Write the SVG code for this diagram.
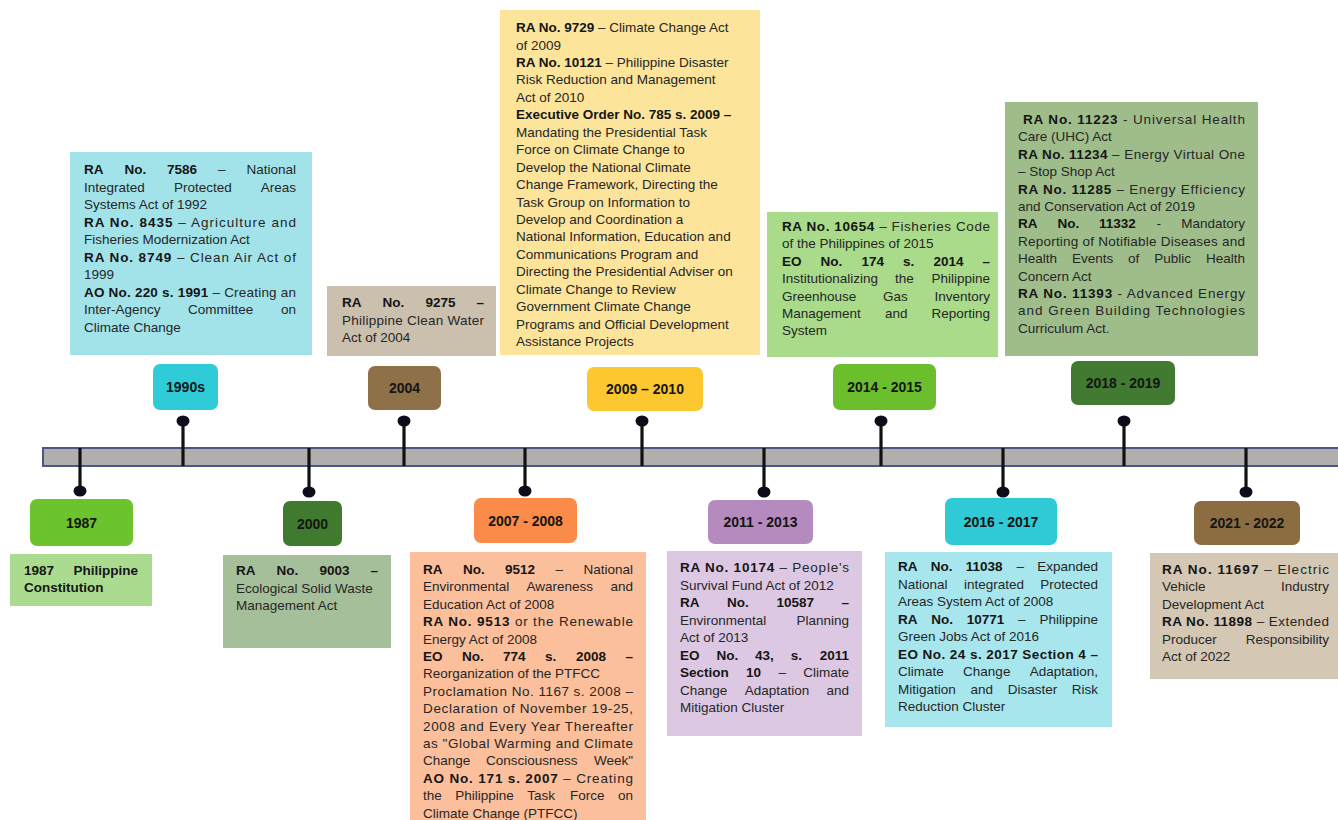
<svg xmlns="http://www.w3.org/2000/svg" width="1338" height="820" viewBox="0 0 1338 820">
<style>
.t{font-family:"Liberation Sans",Arial,sans-serif;font-size:13.5px;fill:#262626}
.b{font-weight:bold;fill:#151515}
.e{text-anchor:end}
.lbl{font-family:"Liberation Sans",Arial,sans-serif;font-size:14px;font-weight:bold;fill:#151515;text-anchor:middle}
.stem{stroke:#111;stroke-width:3.2}
.dot{fill:#0d0d1a}
</style>
<rect width="1338" height="820" fill="#ffffff"/>
<!-- timeline bar -->
<rect id="timeline" x="43" y="448" width="1300" height="18" fill="#b3aeae" stroke="#4b5887" stroke-width="2"/>
<g id="connectors">
<line class="stem" x1="80" y1="448" x2="80" y2="491"/><ellipse class="dot" cx="80" cy="491" rx="6.5" ry="5.5"/>
<line class="stem" x1="183" y1="421" x2="183" y2="466"/><ellipse class="dot" cx="183" cy="421" rx="6.5" ry="5.5"/>
<line class="stem" x1="309" y1="448" x2="309" y2="492"/><ellipse class="dot" cx="309" cy="492" rx="6.5" ry="5.5"/>
<line class="stem" x1="404" y1="421" x2="404" y2="466"/><ellipse class="dot" cx="404" cy="421" rx="6.5" ry="5.5"/>
<line class="stem" x1="525" y1="448" x2="525" y2="491"/><ellipse class="dot" cx="525" cy="491" rx="6.5" ry="5.5"/>
<line class="stem" x1="642" y1="421" x2="642" y2="466"/><ellipse class="dot" cx="642" cy="421" rx="6.5" ry="5.5"/>
<line class="stem" x1="764" y1="448" x2="764" y2="492"/><ellipse class="dot" cx="764" cy="492" rx="6.5" ry="5.5"/>
<line class="stem" x1="881" y1="421" x2="881" y2="466"/><ellipse class="dot" cx="881" cy="421" rx="6.5" ry="5.5"/>
<line class="stem" x1="1003" y1="448" x2="1003" y2="492"/><ellipse class="dot" cx="1003" cy="492" rx="6.5" ry="5.5"/>
<line class="stem" x1="1124" y1="421" x2="1124" y2="466"/><ellipse class="dot" cx="1124" cy="421" rx="6.5" ry="5.5"/>
<line class="stem" x1="1246" y1="448" x2="1246" y2="492"/><ellipse class="dot" cx="1246" cy="492" rx="6.5" ry="5.5"/>
</g>

<!-- year labels -->
<g id="y1987"><rect x="30" y="499" width="103" height="47" rx="7" fill="#6cc32e"/><text class="lbl" x="81.5" y="527.5">1987</text></g>
<g id="y1990s"><rect x="153" y="364" width="65" height="46" rx="7" fill="#2fcbd6"/><text class="lbl" x="185.5" y="392">1990s</text></g>
<g id="y2000"><rect x="283" y="501" width="59" height="45" rx="7" fill="#3f7a2f"/><text class="lbl" x="312.5" y="528.5">2000</text></g>
<g id="y2004"><rect x="368" y="366" width="73" height="44" rx="7" fill="#8e7148"/><text class="lbl" x="404.5" y="393">2004</text></g>
<g id="y2007"><rect x="474" y="498" width="103" height="45" rx="7" fill="#fb8b48"/><text class="lbl" x="525.5" y="525.5">2007 - 2008</text></g>
<g id="y2009"><rect x="587" y="367" width="116" height="44" rx="7" fill="#fdc72f"/><text class="lbl" x="645" y="394">2009 – 2010</text></g>
<g id="y2011"><rect x="708" y="500" width="105" height="44" rx="7" fill="#b58abf"/><text class="lbl" x="760.5" y="527">2011 - 2013</text></g>
<g id="y2014"><rect x="833" y="364" width="103" height="46" rx="7" fill="#6bbf2c"/><text class="lbl" x="884.5" y="392">2014 - 2015</text></g>
<g id="y2016"><rect x="945" y="498" width="112" height="47" rx="7" fill="#2fcad6"/><text class="lbl" x="1001" y="526.5">2016 - 2017</text></g>
<g id="y2018"><rect x="1071" y="361" width="104" height="44" rx="7" fill="#417a30"/><text class="lbl" x="1123" y="388">2018 - 2019</text></g>
<g id="y2021"><rect x="1194" y="501" width="106" height="44" rx="7" fill="#8c6d42"/><text class="lbl" x="1247" y="528">2021 - 2022</text></g>

<!-- content boxes -->
<g id="box1990s">
<rect x="70" y="152" width="242" height="203" fill="#a2e3ea"/>
<text class="t" y="174"><tspan class="b" x="84">RA</tspan><tspan class="b" x="124.5">No.</tspan><tspan class="b" x="167">7586</tspan><tspan x="218">–</tspan></text><text class="t e" x="296" y="174">National</text>
<text class="t" y="191.5"><tspan x="84">Integrated</tspan><tspan x="174">Protected</tspan></text><text class="t e" x="296" y="191.5">Areas</text>
<text class="t" x="84" y="209">Systems Act of 1992</text>
<text class="t" x="84" y="226.7" textLength="212" lengthAdjust="spacing"><tspan class="b">RA No. 8435</tspan> – Agriculture and</text>
<text class="t" x="84" y="244.2">Fisheries Modernization Act</text>
<text class="t" x="84" y="261.8" textLength="212" lengthAdjust="spacing"><tspan class="b">RA No. 8749</tspan> – Clean Air Act of</text>
<text class="t" x="84" y="279.3">1999</text>
<text class="t" x="84" y="296.9" textLength="212" lengthAdjust="spacing"><tspan class="b">AO No. 220 s. 1991</tspan> – Creating an</text>
<text class="t" y="314.4"><tspan x="84">Inter-Agency</tspan><tspan x="188">Committee</tspan></text><text class="t e" x="296" y="314.4">on</text>
<text class="t" x="84" y="332">Climate Change</text>
</g>

<g id="box2004">
<rect x="327" y="286" width="169" height="70" fill="#cbbfad"/>
<text class="t b" y="307"><tspan x="342">RA</tspan><tspan x="382.6">No.</tspan><tspan x="425.4">9275</tspan></text><text class="t b e" x="484" y="307">–</text>
<text class="t" x="342" y="324.5" textLength="142" lengthAdjust="spacing">Philippine Clean Water</text>
<text class="t" x="342" y="342">Act of 2004</text>
</g>

<g id="box2009">
<rect x="500" y="10" width="260" height="345" fill="#fde49b"/>
<text class="t" x="516" y="32"><tspan class="b">RA No. 9729</tspan> – Climate Change Act</text>
<text class="t" x="516" y="49.5">of 2009</text>
<text class="t" x="516" y="66.9"><tspan class="b">RA No. 10121</tspan> – Philippine Disaster</text>
<text class="t" x="516" y="84.4">Risk Reduction and Management</text>
<text class="t" x="516" y="101.8">Act of 2010</text>
<text class="t b" x="516" y="119.3">Executive Order No. 785 s. 2009 –</text>
<text class="t" x="516" y="136.7">Mandating the Presidential Task</text>
<text class="t" x="516" y="154.2">Force on Climate Change to</text>
<text class="t" x="516" y="171.6">Develop the National Climate</text>
<text class="t" x="516" y="189.1">Change Framework, Directing the</text>
<text class="t" x="516" y="206.5">Task Group on Information to</text>
<text class="t" x="516" y="224">Develop and Coordination a</text>
<text class="t" x="516" y="241.4">National Information, Education and</text>
<text class="t" x="516" y="258.9">Communications Program and</text>
<text class="t" x="516" y="276.3">Directing the Presidential Adviser on</text>
<text class="t" x="516" y="293.8">Climate Change to Review</text>
<text class="t" x="516" y="311.2">Government Climate Change</text>
<text class="t" x="516" y="328.7">Programs and Official Development</text>
<text class="t" x="516" y="346.1">Assistance Projects</text>
</g>

<g id="box2014">
<rect x="767" y="212" width="231" height="145" fill="#a9db8b"/>
<text class="t" x="782" y="231" textLength="208" lengthAdjust="spacing"><tspan class="b">RA No. 10654</tspan> – Fisheries Code</text>
<text class="t" x="782" y="248.4">of the Philippines of 2015</text>
<text class="t b" y="265.8"><tspan x="782">EO</tspan><tspan x="820.6">No.</tspan><tspan x="861.4">174</tspan><tspan x="903">s.</tspan><tspan x="933.4">2014</tspan></text><text class="t b e" x="990" y="265.8">–</text>
<text class="t" y="283.2"><tspan x="782">Institutionalizing</tspan><tspan x="895">the</tspan></text><text class="t e" x="990" y="283.2">Philippine</text>
<text class="t" y="300.6"><tspan x="782">Greenhouse</tspan><tspan x="883">Gas</tspan></text><text class="t e" x="990" y="300.6">Inventory</text>
<text class="t" y="318"><tspan x="782">Management</tspan><tspan x="885">and</tspan></text><text class="t e" x="990" y="318">Reporting</text>
<text class="t" x="782" y="335.4">System</text>
</g>

<g id="box2018">
<rect x="1005" y="102" width="253" height="254" fill="#9ebd8b"/>
<text class="t" x="1023" y="124" textLength="222" lengthAdjust="spacing"><tspan class="b">RA No. 11223</tspan> - Universal Health</text>
<text class="t" x="1018" y="141.4">Care (UHC) Act</text>
<text class="t" x="1018" y="158.8" textLength="227" lengthAdjust="spacing"><tspan class="b">RA No. 11234</tspan> – Energy Virtual One</text>
<text class="t" x="1018" y="176.2">– Stop Shop Act</text>
<text class="t" x="1018" y="193.6" textLength="227" lengthAdjust="spacing"><tspan class="b">RA No. 11285</tspan> – Energy Efficiency</text>
<text class="t" x="1018" y="211">and Conservation Act of 2019</text>
<text class="t" y="228.4"><tspan class="b" x="1018">RA</tspan><tspan class="b" x="1057.5">No.</tspan><tspan class="b" x="1099">11332</tspan><tspan x="1156.5">-</tspan></text><text class="t e" x="1245" y="228.4">Mandatory</text>
<text class="t" x="1018" y="245.8" textLength="227" lengthAdjust="spacing">Reporting of Notifiable Diseases and</text>
<text class="t" y="263.2"><tspan x="1018">Health</tspan><tspan x="1072">Events</tspan><tspan x="1128">of</tspan><tspan x="1154.3">Public</tspan></text><text class="t e" x="1245" y="263.2">Health</text>
<text class="t" x="1018" y="280.6">Concern Act</text>
<text class="t" x="1018" y="298" textLength="227" lengthAdjust="spacing"><tspan class="b">RA No. 11393</tspan> - Advanced Energy</text>
<text class="t" x="1018" y="315.4" textLength="227" lengthAdjust="spacing">and Green Building Technologies</text>
<text class="t" x="1018" y="332.8">Curriculum Act.</text>
</g>

<g id="box1987">
<rect x="10" y="554" width="142" height="52" fill="#abdb8e"/>
<text class="t b" x="24" y="575">1987</text><text class="t b e" x="138" y="575">Philippine</text>
<text class="t b" x="24" y="592">Constitution</text>
</g>

<g id="box2000">
<rect x="223" y="555" width="168" height="93" fill="#a6bf9b"/>
<text class="t b" y="575"><tspan x="236">RA</tspan><tspan x="276.6">No.</tspan><tspan x="319.4">9003</tspan></text><text class="t b e" x="378" y="575">–</text>
<text class="t" x="236" y="592.5">Ecological Solid Waste</text>
<text class="t" x="236" y="610">Management Act</text>
</g>

<g id="box2007">
<rect x="410" y="552" width="236" height="270" fill="#fbbf9c"/>
<text class="t" y="574"><tspan class="b" x="423">RA</tspan><tspan class="b" x="463">No.</tspan><tspan class="b" x="505">9512</tspan><tspan x="555.5">–</tspan></text><text class="t e" x="633" y="574">National</text>
<text class="t" y="591.4"><tspan x="423">Environmental</tspan><tspan x="526.5">Awareness</tspan></text><text class="t e" x="633" y="591.4">and</text>
<text class="t" x="423" y="608.8">Education Act of 2008</text>
<text class="t" x="423" y="626.2" textLength="210" lengthAdjust="spacing"><tspan class="b">RA No. 9513</tspan> or the Renewable</text>
<text class="t" x="423" y="643.6">Energy Act of 2008</text>
<text class="t b" y="661"><tspan x="423">EO</tspan><tspan x="462">No.</tspan><tspan x="503">774</tspan><tspan x="545">s.</tspan><tspan x="576">2008</tspan></text><text class="t b e" x="633" y="661">–</text>
<text class="t" x="423" y="678.4">Reorganization of the PTFCC</text>
<text class="t" x="423" y="695.8" textLength="210" lengthAdjust="spacing">Proclamation No. 1167 s. 2008 –</text>
<text class="t" x="423" y="713.2" textLength="210" lengthAdjust="spacing">Declaration of November 19-25,</text>
<text class="t" x="423" y="730.6" textLength="210" lengthAdjust="spacing">2008 and Every Year Thereafter</text>
<text class="t" x="423" y="748" textLength="210" lengthAdjust="spacing">as "Global Warming and Climate</text>
<text class="t" y="765.4"><tspan x="423">Change</tspan><tspan x="486">Consciousness</tspan></text><text class="t e" x="633" y="765.4">Week"</text>
<text class="t" x="423" y="782.8" textLength="210" lengthAdjust="spacing"><tspan class="b">AO No. 171 s. 2007</tspan> – Creating</text>
<text class="t" y="800.2"><tspan x="423">the</tspan><tspan x="455.3">Philippine</tspan><tspan x="527.3">Task</tspan><tspan x="570.1">Force</tspan></text><text class="t e" x="633" y="800.2">on</text>
<text class="t" x="423" y="817.6">Climate Change (PTFCC)</text>
</g>

<g id="box2011">
<rect x="667" y="551" width="195" height="185" fill="#dcc8e2"/>
<text class="t" x="680" y="572" textLength="169" lengthAdjust="spacing"><tspan class="b">RA No. 10174</tspan> – People's</text>
<text class="t" x="680" y="589.5">Survival Fund Act of 2012</text>
<text class="t b" y="607"><tspan x="680">RA</tspan><tspan x="727">No.</tspan><tspan x="776.4">10587</tspan></text><text class="t b e" x="849" y="607">–</text>
<text class="t" x="680" y="624.5">Environmental</text><text class="t e" x="849" y="624.5">Planning</text>
<text class="t" x="680" y="642">Act of 2013</text>
<text class="t b" y="659.5"><tspan x="680">EO</tspan><tspan x="716.4">No.</tspan><tspan x="755">43,</tspan><tspan x="790.7">s.</tspan></text><text class="t b e" x="849" y="659.5">2011</text>
<text class="t" y="677"><tspan class="b" x="680">Section</tspan><tspan class="b" x="746">10</tspan><tspan x="778.4">–</tspan></text><text class="t e" x="849" y="677">Climate</text>
<text class="t" y="694.5"><tspan x="680">Change</tspan><tspan x="744.7">Adaptation</tspan></text><text class="t e" x="849" y="694.5">and</text>
<text class="t" x="680" y="712">Mitigation Cluster</text>
</g>

<g id="box2016">
<rect x="885" y="552" width="227" height="175" fill="#a7e6ed"/>
<text class="t" y="571"><tspan class="b" x="898">RA</tspan><tspan class="b" x="930.8">No.</tspan><tspan class="b" x="965.7">11038</tspan><tspan x="1016.5">–</tspan></text><text class="t e" x="1098" y="571">Expanded</text>
<text class="t" y="588.5"><tspan x="898">National</tspan><tspan x="963.9">integrated</tspan></text><text class="t e" x="1098" y="588.5">Protected</text>
<text class="t" x="898" y="606">Areas System Act of 2008</text>
<text class="t" y="623.5"><tspan class="b" x="898">RA</tspan><tspan class="b" x="931.3">No.</tspan><tspan class="b" x="966.8">10771</tspan><tspan x="1018.1">–</tspan></text><text class="t e" x="1098" y="623.5">Philippine</text>
<text class="t" x="898" y="641">Green Jobs Act of 2016</text>
<text class="t b" x="898" y="658.5" textLength="200" lengthAdjust="spacing">EO No. 24 s. 2017 Section 4 –</text>
<text class="t" y="676"><tspan x="898">Climate</tspan><tspan x="963.1">Change</tspan></text><text class="t e" x="1098" y="676">Adaptation,</text>
<text class="t" y="693.5"><tspan x="898">Mitigation</tspan><tspan x="970.5">and</tspan><tspan x="1007.7">Disaster</tspan></text><text class="t e" x="1098" y="693.5">Risk</text>
<text class="t" x="898" y="711">Reduction Cluster</text>
</g>

<g id="box2021">
<rect x="1150" y="553" width="190" height="126" fill="#d4c7b4"/>
<text class="t" x="1162" y="574" textLength="167" lengthAdjust="spacing"><tspan class="b">RA No. 11697</tspan> – Electric</text>
<text class="t" x="1162" y="591.4">Vehicle</text><text class="t e" x="1329" y="591.4">Industry</text>
<text class="t" x="1162" y="608.8">Development Act</text>
<text class="t" x="1162" y="626.2" textLength="167" lengthAdjust="spacing"><tspan class="b">RA No. 11898</tspan> – Extended</text>
<text class="t" x="1162" y="643.6">Producer</text><text class="t e" x="1329" y="643.6">Responsibility</text>
<text class="t" x="1162" y="661">Act of 2022</text>
</g>
</svg>
